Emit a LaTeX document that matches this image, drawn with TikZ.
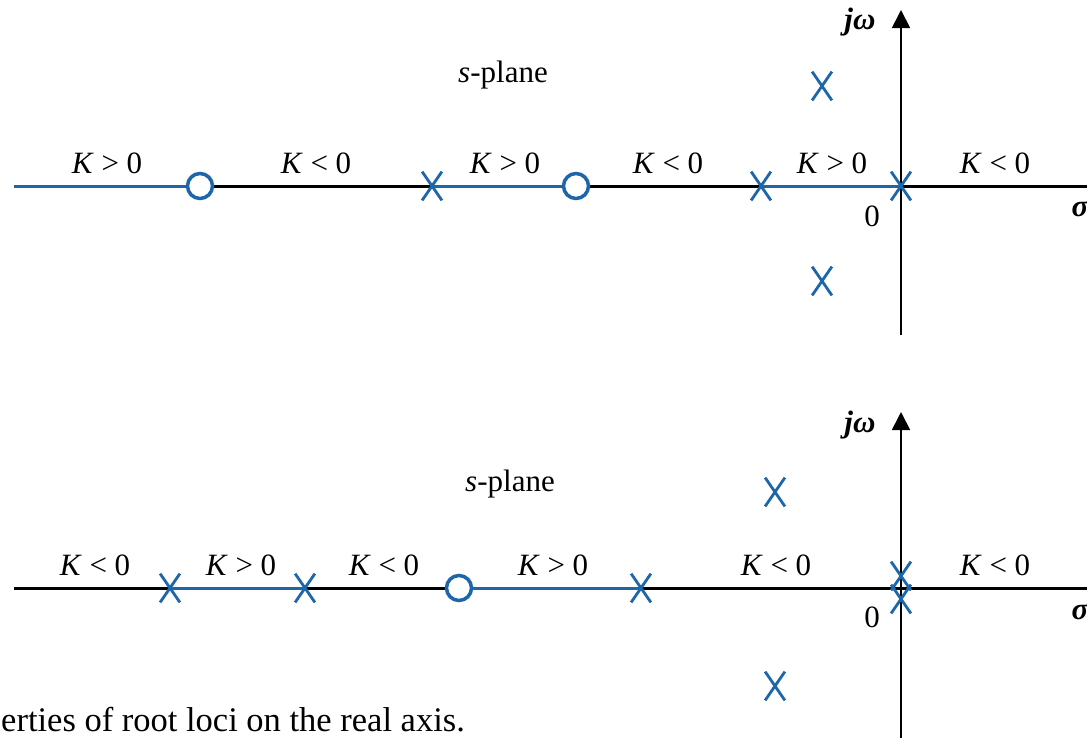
\documentclass[tikz,border=0pt]{standalone}
\usepackage{fontspec}
\setmainfont{Liberation Serif}
\usetikzlibrary{arrows.meta,shapes.misc,backgrounds}
\definecolor{locBlue}{RGB}{30,102,170}

\begin{document}
\begin{tikzpicture}[
  x=1pt,
  y=-1pt,
  every node/.style={font=\fontsize{31}{36}\selectfont},
  pole/.style={
    draw=locBlue,
    cross out,
    line width=2.8pt,
    minimum width=17pt,
    minimum height=26pt,
    inner sep=0pt
  },
  zero/.style={
    draw=locBlue,
    circle,
    line width=3.5pt,
    fill=white,
    minimum size=25pt,
    inner sep=0pt
  },
  locus/.style={draw=locBlue, line width=3pt},
  realaxis/.style={draw=black, line width=3pt},
  imaxis/.style={line width=1.8pt, -{Triangle[width=18pt,length=18pt]}}
]
  \useasboundingbox (0,0) rectangle (1087,737);

  % upper s-plane
  \coordinate (tl) at (14,186);
  \coordinate (tr) at (1095,186);
  \coordinate (tb) at (901,335);
  \coordinate (tt) at (901,10);
  \node[zero] (tz1) at (200,186) {};
  \node[pole] (tp1) at (432,186) {};
  \node[zero] (tz2) at (576,186) {};
  \node[pole] (tp2) at (761,186) {};
  \node[pole] (tp3) at (901,186) {};
  \node[pole] (tp4) at (822,86) {};
  \node[pole] (tp5) at (822,281) {};

  \node (tk1) at (107,163) {\textit{K} > 0};
  \node (tk2) at (316,163) {\textit{K} < 0};
  \node (tk3) at (505,163) {\textit{K} > 0};
  \node (tk4) at (668,163) {\textit{K} < 0};
  \node (tk5) at (832,163) {\textit{K} > 0};
  \node (tk6) at (995,163) {\textit{K} < 0};
  \node (tsp) at (503,75) {\textit{s}-plane};
  \node (tjw) at (860,22) {\textbf{\textit{jω}}};
  \node[anchor=west] (tsig) at (1068,209) {\textbf{\textit{σ}}};
  \node (to) at (872,216) {0};

  % lower s-plane
  \coordinate (bl) at (14,588);
  \coordinate (br) at (1095,588);
  \coordinate (bb) at (901,745);
  \coordinate (bt) at (901,412);
  \node[pole] (bp1) at (170,588) {};
  \node[pole] (bp2) at (305,588) {};
  \node[zero] (bz1) at (459,588) {};
  \node[pole] (bp3) at (641,588) {};
  \node[pole] (bp4) at (901,576) {};
  \node[pole] (bp5) at (901,599) {};
  \node[pole] (bp6) at (775,492) {};
  \node[pole] (bp7) at (775,686) {};

  \node (bk1) at (95,565) {\textit{K} < 0};
  \node (bk2) at (241,565) {\textit{K} > 0};
  \node (bk3) at (384,565) {\textit{K} < 0};
  \node (bk4) at (553,565) {\textit{K} > 0};
  \node (bk5) at (776,565) {\textit{K} < 0};
  \node (bk6) at (995,565) {\textit{K} < 0};
  \node (bsp) at (510,484) {\textit{s}-plane};
  \node (bjw) at (860,425) {\textbf{\textit{jω}}};
  \node[anchor=west] (bsig) at (1068,611) {\textbf{\textit{σ}}};
  \node (bo) at (872,617) {0};

  \node[anchor=base west, inner sep=0pt, font=\fontsize{34.5}{40}\selectfont] (cap) at (1,731) {erties of root loci on the real axis.};

  \begin{scope}[on background layer]
    \draw[imaxis] (tb) -- (tt);
    \draw[locus] (tl) -- (tz1.center);
    \draw[realaxis] (tz1.center) -- (tp1.center);
    \draw[locus] (tp1.center) -- (tz2.center);
    \draw[realaxis] (tz2.center) -- (tp2.center);
    \draw[locus] (tp2.center) -- (tp3.center);
    \draw[realaxis] (tp3.center) -- (tr);

    \draw[imaxis] (bb) -- (bt);
    \draw[realaxis] (bl) -- (bp1.center);
    \draw[locus] (bp1.center) -- (bp2.center);
    \draw[realaxis] (bp2.center) -- (bz1.center);
    \draw[locus] (bz1.center) -- (bp3.center);
    \draw[realaxis] (bp3.center) -- (br);
  \end{scope}
\end{tikzpicture}
\end{document}
